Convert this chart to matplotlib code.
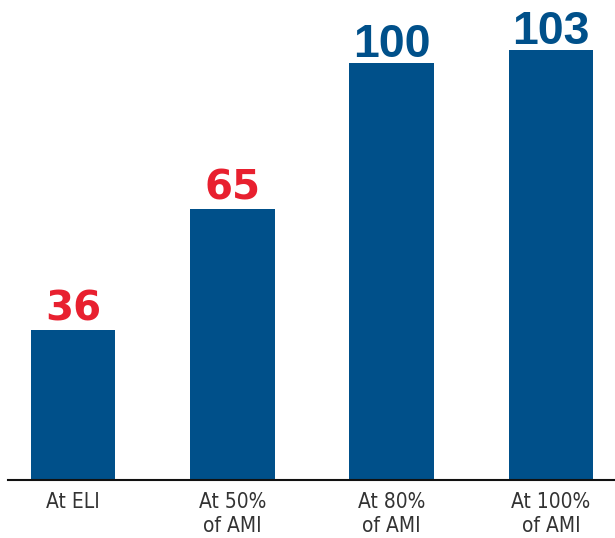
import matplotlib
matplotlib.use('Agg')
from matplotlib import pyplot as plt

# data
categories = ['At ELI', 'At 50%\nof AMI', 'At 80%\nof AMI', 'At 100%\nof AMI']
values = [36, 65, 100, 103]
label_colors = ['#E8202F', '#E8202F', '#00508A', '#00508A']

bar_color = '#00508A'

# red labels are a wider face, blue ones taller and tighter
label_style = {
    '#E8202F': dict(fontsize=29, family=['DejaVu Sans'], offset=6.5),
    '#00508A': dict(fontsize=33.5, family=['Liberation Sans', 'DejaVu Sans'], offset=4.5),
}

fig = plt.figure(figsize=(6.15, 5.38), dpi=100)
ax = fig.add_axes([8 / 615, 58 / 538, 1 - 8 / 615, 480 / 538])

x = list(range(len(values)))
ax.bar(x, values, width=0.53, color=bar_color)

for xi, v, c in zip(x, values, label_colors):
    st = label_style[c]
    ax.annotate(str(v), (xi, v), xytext=(0, st['offset']), textcoords='offset points',
                ha='center', va='baseline', fontsize=st['fontsize'], fontweight='bold',
                color=c, family=st['family'])

ax.set_xlim(-0.408, 3.402)
ax.set_ylim(0, 115.1)

ax.set_xticks(x)
ax.set_xticklabels(categories, fontsize=15, color='#333333',
                   family='DejaVu Sans', fontstretch='condensed',
                   linespacing=1.25)
ax.tick_params(axis='x', length=0, pad=9)
ax.set_yticks([])

for side in ['top', 'right', 'left']:
    ax.spines[side].set_visible(False)
ax.spines['bottom'].set_linewidth(1.5)
ax.spines['bottom'].set_color('#111111')

fig.savefig('out.png', dpi=100)
